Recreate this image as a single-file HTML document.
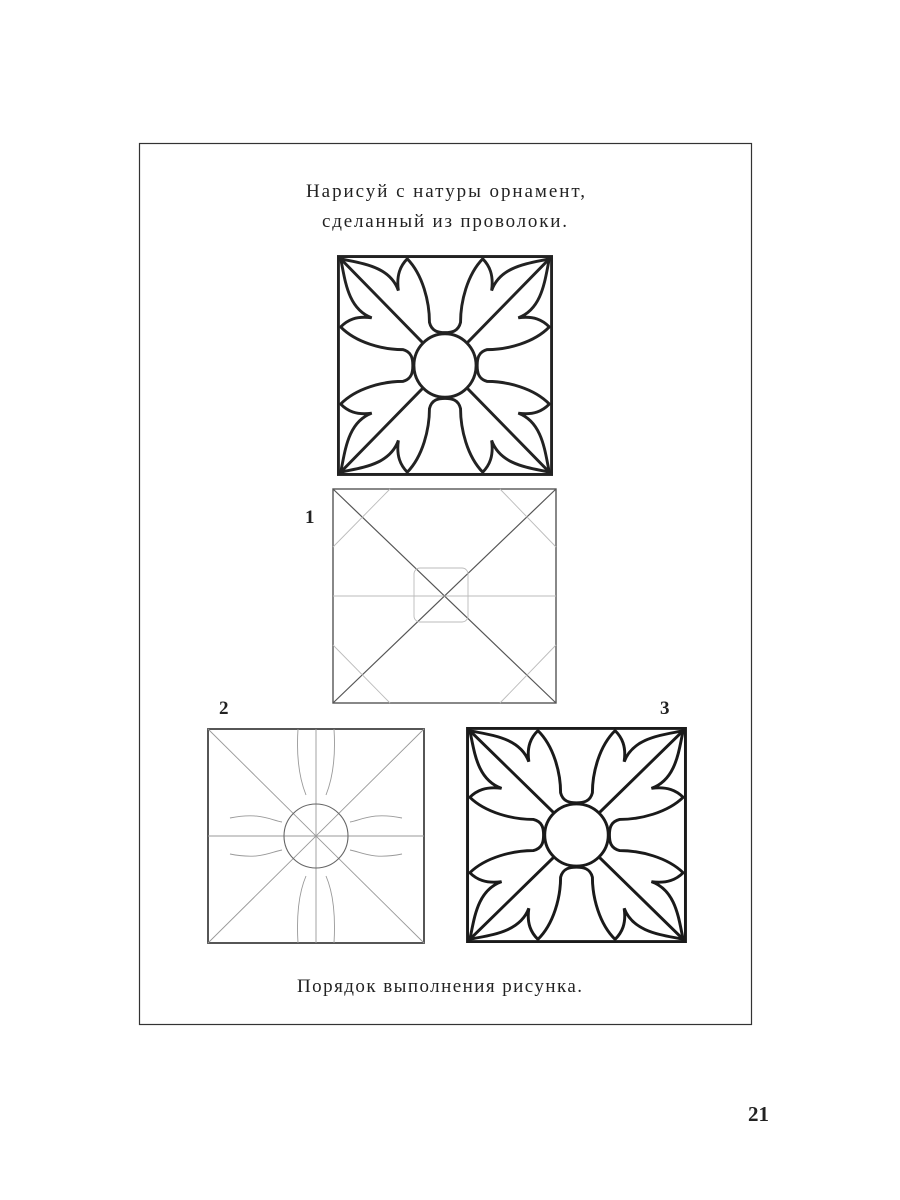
<!DOCTYPE html>
<html><head><meta charset="utf-8"><style>
html,body{margin:0;padding:0;background:#fff;}
svg{display:block}
text{font-family:"Liberation Serif",serif;fill:#222}
</style></head><body>
<svg width="900" height="1200" viewBox="0 0 900 1200" xmlns="http://www.w3.org/2000/svg">
<defs>
<g id="eighth">
<path d="M3,3 C12,5 25,6 29,17 C28,10 30,6 33,3 C40,10 43,22 43,31 C44,35 47,35.5 50,35.5" fill="none"/>
</g>
<g id="quarter">
<use href="#eighth"/>
<use href="#eighth" transform="translate(100,0) scale(-1,1)"/>
</g>
<g id="orn">
<rect x="2" y="2" width="96" height="96" fill="none"/>
<line x1="2" y1="2" x2="40" y2="40"/><line x1="98" y1="2" x2="60" y2="40"/>
<line x1="2" y1="98" x2="40" y2="60"/><line x1="98" y1="98" x2="60" y2="60"/>
<circle cx="50" cy="50" r="14" fill="none"/>
<use href="#quarter"/>
<use href="#quarter" transform="rotate(90 50 50)"/>
<use href="#quarter" transform="rotate(180 50 50)"/>
<use href="#quarter" transform="rotate(270 50 50)"/>
</g>
</defs>
<rect x="139.5" y="143.5" width="612" height="881" fill="none" stroke="#333" stroke-width="1.2"/>
<text x="306" y="197" font-size="19" textLength="279">Нарисуй с натуры орнамент,</text>
<text x="322" y="227" font-size="19" textLength="245">сделанный из проволоки.</text>

<g transform="translate(334,252) scale(2.22,2.27)" stroke="#222" stroke-width="1.3" fill="none">
<use href="#orn"/>
</g>

<text x="305" y="523" font-size="19" font-weight="bold">1</text>
<g stroke="#555" fill="none">
<rect x="333" y="489" width="223" height="214" stroke-width="1.4"/>
<line x1="333" y1="489" x2="556" y2="703" stroke-width="1.2"/>
<line x1="556" y1="489" x2="333" y2="703" stroke-width="1.2"/>
<g stroke="#bbb" stroke-width="0.9">
<line x1="333" y1="547" x2="390" y2="489"/><line x1="500" y1="489" x2="556" y2="547"/>
<line x1="333" y1="645" x2="390" y2="703"/><line x1="500" y1="703" x2="556" y2="645"/>
<line x1="333" y1="596" x2="556" y2="596"/>
<rect x="414" y="568" width="54" height="54" rx="6"/>
</g>
</g>

<text x="219" y="714" font-size="19" font-weight="bold">2</text>
<g stroke="#444" fill="none">
<rect x="208" y="729" width="216" height="214" stroke-width="1.8"/>
<g stroke="#999" stroke-width="0.9">
<line x1="208" y1="729" x2="424" y2="943"/><line x1="424" y1="729" x2="208" y2="943"/>
<line x1="208" y1="836" x2="424" y2="836"/><line x1="316" y1="729" x2="316" y2="943"/>
<path d="M298,729 C296,760 300,780 306,795 M334,729 C336,760 332,780 326,795 M298,943 C296,910 300,890 306,876 M334,943 C336,910 332,890 326,876 M230,818 C260,812 270,820 282,822 M230,854 C260,860 270,852 282,850 M402,818 C372,812 362,820 350,822 M402,854 C372,860 362,852 350,850"/>
</g>
<circle cx="316" cy="836" r="32" stroke-width="1.1" stroke="#666"/>
</g>

<text x="660" y="714" font-size="19" font-weight="bold">3</text>
<g transform="translate(463,724) scale(2.27,2.22)" stroke="#1a1a1a" stroke-width="1.3" fill="none">
<use href="#orn"/>
</g>

<text x="297" y="992" font-size="19" textLength="285">Порядок выполнения рисунка.</text>
<text x="748" y="1121" font-size="21" font-weight="bold">21</text>
</svg>
</body></html>
